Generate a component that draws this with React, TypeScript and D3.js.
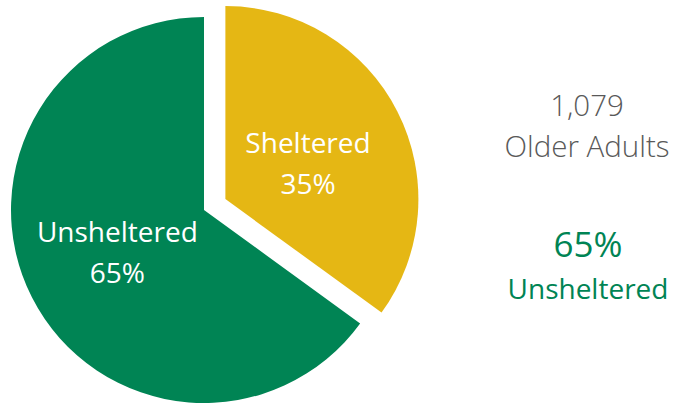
import React from "react";
import * as d3 from "d3";

const categories = ["Sheltered", "Unsheltered"];
const values = [35, 65];
const colors = ["#E5B714", "#008454"];
const totalLabel = "1,079";
const groupLabel = "Older Adults";

export default function App() {
  const W = 674, H = 404;
  const cx = 204, cy = 210, R = 193;
  const pie = d3.pie<number>().sort(null).value((d) => d);
  const arcs = pie(values);
  const arc = d3.arc<d3.PieArcDatum<number>>().innerRadius(0).outerRadius(R);
  const labelArc = d3.arc<d3.PieArcDatum<number>>().innerRadius(95).outerRadius(95);
  const explode = [24, 0];
  const labelShift = [-3, -11];
  const font = "'Open Sans', 'Noto Sans', sans-serif";
  const unshelteredPct = Math.round((values[1] / d3.sum(values)) * 100);
  return (
    <svg width={W} height={H} style={{ position: "absolute", left: 0, top: 0 }}>
      {arcs.map((a, i) => {
        const mid = (a.startAngle + a.endAngle) / 2;
        const dx = Math.sin(mid) * explode[i];
        const dy = -Math.cos(mid) * explode[i];
        const [lx, ly] = labelArc.centroid(a);
        return (
          <g key={i} transform={`translate(${cx + dx},${cy + dy})`}>
            <path d={arc(a) || ""} fill={colors[i]} />
            <text
              x={lx}
              y={ly + labelShift[i]}
              textAnchor="middle"
              fill="#fff"
              fontFamily={font}
              fontSize={28}
            >
              <tspan x={lx - 2}>{categories[i]}</tspan>
              <tspan x={lx - 2} dy={41}>{`${a.data}%`}</tspan>
            </text>
          </g>
        );
      })}
      <text x={587} y={116} textAnchor="middle" fill="#595959" fontFamily={font} fontWeight={300} fontSize={29.5}>
        {totalLabel}
      </text>
      <text x={587} y={157} textAnchor="middle" fill="#595959" fontFamily={font} fontWeight={300} fontSize={29.5}>
        {groupLabel}
      </text>
      <text x={588} y={257} textAnchor="middle" fill="#008454" fontFamily={font} fontSize={35}>
        {`${unshelteredPct}%`}
      </text>
      <text x={588} y={299} textAnchor="middle" fill="#008454" fontFamily={font} fontSize={28}>
        {categories[1]}
      </text>
    </svg>
  );
}
